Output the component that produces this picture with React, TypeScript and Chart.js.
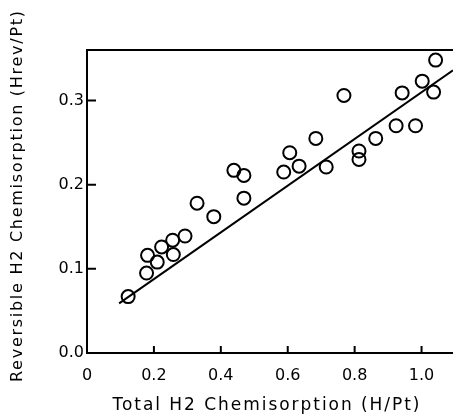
import React, { useEffect, useRef } from "react";
import { Chart, registerables } from "chart.js";

Chart.register(...registerables);

const totalH2: number[] = [0.123, 0.178, 0.181, 0.21, 0.223, 0.258, 0.256, 0.293, 0.329, 0.379, 0.439, 0.469, 0.469, 0.588, 0.606, 0.634, 0.684, 0.715, 0.768, 0.813, 0.813, 0.863, 0.924, 0.942, 0.982, 1.002, 1.036, 1.042];
const reversibleH2: number[] = [0.067, 0.095, 0.116, 0.108, 0.126, 0.117, 0.134, 0.139, 0.178, 0.162, 0.217, 0.211, 0.184, 0.215, 0.238, 0.222, 0.255, 0.221, 0.306, 0.24, 0.23, 0.255, 0.27, 0.309, 0.27, 0.323, 0.31, 0.348];
const fitX: number[] = [0.096, 1.094];
const fitY: number[] = [0.059, 0.336];
const xTicks: number[] = [0, 0.2, 0.4, 0.6, 0.8, 1.0];
const yTicks: number[] = [0.0, 0.1, 0.2, 0.3];
const xTitle = "Total H2 Chemisorption (H/Pt)";
const yTitle = "Reversible H2 Chemisorption (Hrev/Pt)";

const FONT = "'DejaVu Sans', sans-serif";

function spacedText(ctx: CanvasRenderingContext2D, text: string, x: number, y: number, targetWidth: number) {
  (ctx as any).letterSpacing = "0px";
  const w = ctx.measureText(text).width;
  const ls = (targetWidth - w) / (text.length - 1);
  (ctx as any).letterSpacing = ls + "px";
  const w2 = ctx.measureText(text).width - ls;
  ctx.textAlign = "left";
  ctx.fillText(text, x - w2 / 2, y);
  (ctx as any).letterSpacing = "0px";
}

const framePlugin = {
  id: "frame",
  beforeDatasetsDraw(chart: any) {
    const { ctx, chartArea, scales } = chart;
    const { left, right, top, bottom } = chartArea;
    ctx.save();
    ctx.strokeStyle = "#000";
    ctx.lineWidth = 2;
    ctx.beginPath();
    ctx.moveTo(right + 2, top);
    ctx.lineTo(left, top);
    ctx.lineTo(left, bottom);
    ctx.lineTo(right + 2, bottom);
    ctx.stroke();
    ctx.beginPath();
    xTicks.forEach((v) => {
      if (v === 0) return;
      const px = scales.x.getPixelForValue(v);
      ctx.moveTo(px, bottom);
      ctx.lineTo(px, bottom - 7);
    });
    yTicks.forEach((v) => {
      if (v === 0) return;
      const py = scales.y.getPixelForValue(v);
      ctx.moveTo(left, py);
      ctx.lineTo(left + 9, py);
    });
    ctx.stroke();
    ctx.restore();
  },
  afterDraw(chart: any) {
    const { ctx } = chart;
    ctx.save();
    ctx.fillStyle = "#000";
    ctx.textBaseline = "alphabetic";
    ctx.font = "17px " + FONT;
    spacedText(ctx, xTitle, 266, 410, 307);
    ctx.translate(22, 196.5);
    ctx.rotate(-Math.PI / 2);
    ctx.font = "16px " + FONT;
    spacedText(ctx, yTitle, 0, 0, 371);
    ctx.restore();
  },
};

export default function App() {
  const ref = useRef<HTMLCanvasElement | null>(null);
  useEffect(() => {
    if (!ref.current) return;
    const chart = new Chart(ref.current, {
      type: "scatter",
      data: {
        datasets: [
          {
            type: "line",
            data: fitX.map((x, i) => ({ x, y: fitY[i] })),
            borderColor: "#000",
            borderWidth: 2,
            pointRadius: 0,
            fill: false,
          } as any,
          {
            data: totalH2.map((x, i) => ({ x, y: reversibleH2[i] })),
            backgroundColor: "rgba(255,255,255,0)",
            borderColor: "#000",
            borderWidth: 2,
            pointRadius: 6.5,
            clip: false,
          } as any,
        ],
      },
      options: {
        animation: false,
        responsive: false,
        maintainAspectRatio: false,
        layout: { autoPadding: false, padding: { top: 50, right: 0, left: 0, bottom: 0 } },
        plugins: { legend: { display: false }, tooltip: { enabled: false } },
        scales: {
          x: {
            type: "linear",
            min: 0,
            max: 1.094,
            border: { display: false },
            grid: { display: false, drawTicks: false },
            afterBuildTicks: (s: any) => { s.ticks = xTicks.map((v) => ({ value: v })); },
            afterFit: (s: any) => { s.height = 61; s.paddingLeft = 0; s.paddingRight = 0; },
            ticks: {
              color: "#000",
              padding: 13,
              font: { family: FONT, size: 16 },
              callback: (v: any) => (v === 0 ? "0" : Number(v).toFixed(1)),
            },
          },
          y: {
            type: "linear",
            min: 0,
            max: 0.36,
            border: { display: false },
            grid: { display: false, drawTicks: false },
            afterBuildTicks: (s: any) => { s.ticks = yTicks.map((v) => ({ value: v })); },
            afterFit: (s: any) => { s.width = 87; s.paddingTop = 0; s.paddingBottom = 0; },
            ticks: {
              color: "#000",
              padding: 3,
              font: { family: FONT, size: 16 },
              callback: (v: any) => Number(v).toFixed(1),
            },
          },
        },
      },
      plugins: [framePlugin],
    });
    return () => chart.destroy();
  }, []);
  return (
    <div style={{ position: "fixed", left: 0, top: 0, width: 453, height: 414, background: "#fff" }}>
      <canvas ref={ref} width={453} height={414} style={{ display: "block" }} />
    </div>
  );
}
